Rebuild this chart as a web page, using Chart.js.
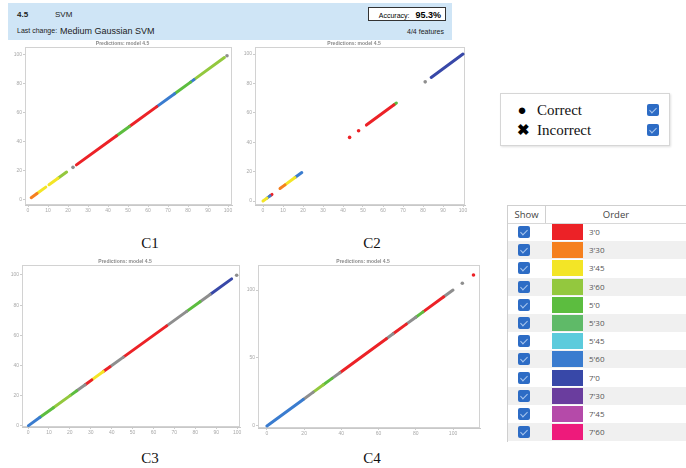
<!DOCTYPE html>
<html>
<head>
<meta charset="utf-8">
<script src="https://cdn.jsdelivr.net/npm/chart.js@4.4.1/dist/chart.umd.min.js"></script>
<style>
body { margin: 0; background: #fff; }
#page { position: relative; width: 686px; height: 468px; overflow: hidden; font-family: "Liberation Sans", Arial, sans-serif; }
.header { position: absolute; left: 8px; top: 3px; width: 444px; height: 37px; background: #cfe5f6; }
.header span { position: absolute; white-space: nowrap; color: #222; }
.acc { position: absolute; left: 360px; top: 4px; width: 78px; height: 14px; background: #fff; border: 1px solid #333; font-size: 7px; line-height: 14px; text-align: right; padding-right: 4px; box-sizing: border-box; }
.acc b { font-size: 9px; margin-left: 4px; }
canvas { position: absolute; }
.cap { position: absolute; width: 60px; text-align: center; font-family: "Liberation Serif", "DejaVu Serif", serif; font-size: 15px; line-height: 18px; color: #111; }
.legend { position: absolute; left: 500px; top: 93px; width: 170px; height: 53px; border: 1px solid #d6d6d6; box-shadow: 1px 1px 2px rgba(0,0,0,0.12); box-sizing: border-box; font-family: "Liberation Serif", "DejaVu Serif", serif; font-size: 15px; }
.legend .item { position: absolute; left: 36px; line-height: 18px; color: #111; }
.legend .mark { position: absolute; left: 16px; width: 10px; text-align: center; font-family: "Liberation Sans", Arial, sans-serif; font-weight: bold; line-height: 18px; }
.cb { position: absolute; width: 12px; height: 12px; background: #2d6cc5; border-radius: 2px; }
.cb::after { content: ""; position: absolute; left: 4px; top: 2px; width: 3px; height: 6px; border: solid #a9c6ee; border-width: 0 1.5px 1.5px 0; transform: rotate(45deg); }
.table { position: absolute; left: 507px; top: 205px; width: 179px; height: 237px; border-left: 1px solid #cfcfcf; border-top: 1px solid #cfcfcf; box-sizing: border-box; font-family: "Open Sans", "DejaVu Sans", sans-serif; }
.thead { position: absolute; left: 0; top: 0; width: 179px; height: 17px; border-bottom: 1px solid #d8d8d8; font-size: 9.5px; line-height: 17px; color: #444; }
.thead .show { position: absolute; left: 0; width: 37px; text-align: center; border-right: 1px solid #d0d0d0; }
.thead .order { position: absolute; left: 38px; width: 140px; text-align: center; }
.row { position: absolute; left: 0; width: 179px; height: 18px; }
.row.alt { background: #f0f0f0; }
.row .cb { left: 10px; top: 3px; }
.row .sw { position: absolute; left: 44px; top: 1px; width: 31px; height: 16px; }
.row .lbl { position: absolute; left: 81px; top: 0; font-size: 8px; line-height: 18px; color: #555; }
</style>
</head>
<body>
<div id="page">
  <div class="header">
    <span style="left:9px;top:7px;font-size:8px;font-weight:bold;">4.5</span>
    <span style="left:47px;top:7px;font-size:8px;">SVM</span>
    <span style="left:9px;top:24px;font-size:7px;">Last change:</span>
    <span style="left:52px;top:23px;font-size:9px;">Medium Gaussian SVM</span>
    <div class="acc">Accuracy: <b>95.3%</b></div>
    <span style="right:8px;top:25px;font-size:7px;">4/4 features</span>
  </div>

  <canvas id="c1" width="223" height="176" style="left:13px;top:39px;"></canvas>
  <canvas id="c2" width="226" height="176" style="left:243px;top:39px;"></canvas>
  <canvas id="c3" width="234" height="180" style="left:10px;top:257px;"></canvas>
  <canvas id="c4" width="238" height="181" style="left:246px;top:257px;"></canvas>

  <div class="cap" style="left:120px;top:234px;">C1</div>
  <div class="cap" style="left:342px;top:234px;">C2</div>
  <div class="cap" style="left:120px;top:449px;">C3</div>
  <div class="cap" style="left:342px;top:449px;">C4</div>

  <div class="legend">
    <span class="mark" style="top:7px;">&#9679;</span><span class="item" style="top:7px;">Correct</span>
    <span class="cb" style="left:146px;top:10px;"></span>
    <span class="mark" style="top:27px;">&#10006;</span><span class="item" style="top:27px;">Incorrect</span>
    <span class="cb" style="left:146px;top:30px;"></span>
  </div>

  <div class="table" id="orderTable">
    <div class="thead"><span class="show">Show</span><span class="order">Order</span></div>
  </div>
</div>

<script>
// class labels and colours
const orders = ["3'0", "3'30", "3'45", "3'60", "5'0", "5'30", "5'45", "5'60", "7'0", "7'30", "7'45", "7'60"];
const orderColors = ['#ec2227', '#f5801f', '#f3e526', '#93c83e', '#5cbd3f', '#5fba68', '#5ccbdc', '#3a7ccf', '#3848a8', '#6a3d9e', '#b54aa9', '#ee1a7b'];
const wrongColor = '#8e8e8e';

// runs of points along the diagonal: [from, to, class] (class -1 = misclassified)
const c1Runs = [[1.6, 4.5, 1], [4.5, 8.9, 2], [10.5, 15, 2], [15, 19.3, 3], [22.5, 22.5, -1], [24.2, 44.3, 0], [44.3, 50.7, 4], [50.7, 64.4, 0], [64.4, 73.3, 7], [73.3, 81.3, 4], [81.3, 83, 7], [83, 98.2, 3], [99.5, 99.5, -1]];
const c2Runs = [[0, 2, 2], [2, 3.5, 7], [3.5, 4.5, 0], [8.5, 11, 1], [11, 16, 2], [16, 19.4, 7], [43.3, 43.3, 0], [47.8, 47.8, 0], [51.7, 65.5, 0], [65.5, 66.7, 4], [81.1, 81.1, -1], [84.1, 100, 8]];
const c3Runs = [[0.2, 5.7, 7], [5.7, 12.1, 4], [12.1, 20.1, 3], [20.1, 23.3, 4], [23.3, 27.3, -1], [27.3, 30.5, 0], [30.5, 36, 2], [36, 39.2, 0], [39.2, 45.6, -1], [45.6, 66.3, 0], [66.3, 75.9, -1], [75.9, 82.3, 4], [82.3, 87.1, -1], [87.1, 97.4, 8], [99.8, 99.8, -1]];
const c4Runs = [[0, 19.5, 7], [19.5, 24.9, -1], [24.9, 30.3, 3], [30.3, 35, 4], [35, 39.2, -1], [39.2, 64.2, 0], [64.2, 67.8, -1], [67.8, 74.9, 0], [74.9, 80, -1], [80, 83.9, 4], [83.9, 95, 0], [95, 100, -1], [105, 105, -1], [111, 111, 0]];

// axis limits: [xMin, xMax, yMin, yMax] and tick steps
const c1Limits = [-1.5, 102, -3.45, 105.5];
const c2Limits = [-4, 101, -2.7, 104.8];
const c3Limits = [-2.9, 101.4, -0.7, 106.6];
const c4Limits = [-4.8, 114.5, -1.5, 118.4];
const xSteps = [10, 10, 10, 20];
const ySteps = [20, 20, 20, 50];

// table rows
const table = document.getElementById('orderTable');
orders.forEach((label, i) => {
    const row = document.createElement('div');
    row.className = 'row' + (i % 2 ? ' alt' : '');
    row.style.top = (17 + i * 18.2) + 'px';
    row.innerHTML = '<span class="cb"></span><span class="sw" style="background:' + orderColors[i] + '"></span><span class="lbl">' + label + '</span>';
    table.appendChild(row);
});

// light box around the plot area
const framePlugin = {
    id: 'frame',
    beforeDatasetsDraw(chart) {
        const a = chart.chartArea;
        const ctx = chart.ctx;
        ctx.save();
        ctx.strokeStyle = '#d2d2d2';
        ctx.lineWidth = 1;
        ctx.strokeRect(a.left + 0.5, a.top + 0.5, a.width - 1, a.height - 1);
        ctx.restore();
    }
};

function runDataset(run) {
    const [from, to, cls] = run;
    const color = cls < 0 ? wrongColor : orderColors[cls];
    const single = from === to;
    return {
        data: single ? [{ x: from, y: from }] : [{ x: from, y: from }, { x: to, y: to }],
        showLine: !single,
        borderColor: color,
        backgroundColor: color,
        borderWidth: 3,
        borderCapStyle: 'round',
        pointRadius: single ? 1.8 : 0,
        pointBorderWidth: 0
    };
}

function axis(min, max, step, isX) {
    return {
        type: 'linear',
        min: min,
        max: max,
        ticks: {
            stepSize: step, includeBounds: false, font: { size: 5 }, color: '#a8a8a8', padding: 1, maxRotation: 0,
            callback: v => (Math.abs(v % step) < 1e-6 ? v : '')
        },
        grid: { drawOnChartArea: false, tickLength: 2, color: '#cccccc' },
        border: { color: '#c8c8c8' },
        afterFit(s) {
            if (isX) s.height = 10; else s.width = 12;
        }
    };
}

function makeChart(id, runs, limits, xStep, yStep) {
    new Chart(document.getElementById(id), {
        type: 'scatter',
        data: { datasets: runs.map(runDataset) },
        options: {
            responsive: false,
            animation: false,
            layout: { padding: { right: 4 } },
            plugins: {
                legend: { display: false },
                tooltip: { enabled: false },
                title: { display: true, text: 'Predictions: model 4.5', font: { size: 5, lineHeight: 1 }, color: '#8a8a8a', padding: { top: 2, bottom: 1 } }
            },
            scales: {
                x: axis(limits[0], limits[1], xStep, true),
                y: axis(limits[2], limits[3], yStep, false)
            }
        },
        plugins: [framePlugin]
    });
}

makeChart('c1', c1Runs, c1Limits, xSteps[0], ySteps[0]);
makeChart('c2', c2Runs, c2Limits, xSteps[1], ySteps[1]);
makeChart('c3', c3Runs, c3Limits, xSteps[2], ySteps[2]);
makeChart('c4', c4Runs, c4Limits, xSteps[3], ySteps[3]);
</script>
</body>
</html>
